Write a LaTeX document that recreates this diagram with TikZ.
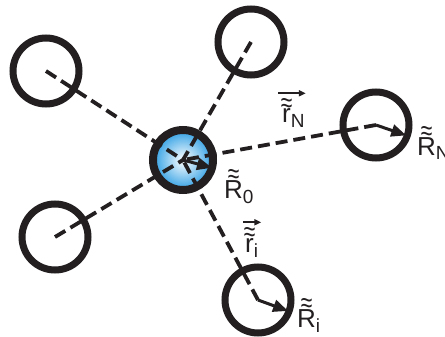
\documentclass[tikz,border=0pt]{standalone}
\usepackage{graphicx}
\usepackage{fontspec}
\setmainfont{Liberation Sans}
\usetikzlibrary{arrows.meta}
\definecolor{ink}{HTML}{231F20}
\definecolor{coreblue}{HTML}{2E9FE4}
% letter with a double tilde above it, and a lowered index
\newsavebox{\dtilbox}
\newcommand{\dtil}[1]{\sbox{\dtilbox}{#1}\rlap{\hbox to\wd\dtilbox{\hss
  \raisebox{\dimexpr\ht\dtilbox-3.5pt\relax}{\scalebox{1}[1.35]{\fontsize{21}{21}\selectfont\char"2248}}\hss}}\usebox{\dtilbox}}
\newcommand{\lowsub}[1]{\raisebox{-5pt}{\fontsize{19}{19}\selectfont #1}}

\begin{document}
\begin{tikzpicture}[x=1pt,y=1pt,
  ring/.style={circle,draw=ink,line width=7pt,minimum size=66pt,inner sep=0pt},
  core/.style={circle,draw=ink,line width=8pt,minimum size=60pt,inner sep=0pt,
               inner color=white,outer color=coreblue},
  link/.style={draw=ink,line width=3.8pt,dash pattern=on 12pt off 6pt},
  radius/.style={-{Triangle[length=15pt,width=12pt]},draw=ink,line width=3pt},
  vecarrow/.style={-{Triangle[length=7pt,width=6pt]},draw=ink,line width=1.8pt},
  lbl/.style={anchor=base west,inner sep=0pt,text=ink,font=\fontsize{26}{31}\selectfont}
]
% pixel grid of the 445 x 337 figure, y pointing down as negative values
\path[use as bounding box] (0,0) rectangle (445,-337);

\node[core] (R0) at (183,-160) {};
\node[ring] (Rtl) at (46,-71) {};
\node[ring] (Rt) at (251,-42) {};
\node[ring] (RN) at (376,-125) {};
\node[ring] (Rbl) at (55,-237) {};
\node[ring] (Ri) at (258,-300) {};

\foreach \outer in {Rtl,Rt,RN,Rbl,Ri}{\draw[link] (\outer.center) -- (R0.center);}

\draw[radius] (R0.center) -- ([shift={(-15:30)}]R0.center);
\draw[radius] (RN.center) -- ([shift={(-19:32)}]RN.center);
\draw[radius] (Ri.center) -- ([shift={(-20:32)}]Ri.center);

\node[lbl] (labR0) at (224,-198) {\dtil{R}\lowsub{0}};
\node[lbl] (labRN) at (417,-155) {\dtil{R}\lowsub{N}};
\node[lbl] (labRi) at (297,-327) {\dtil{R}\lowsub{i}};
\node[lbl] (labrN) at (282,-123) {\dtil{r}\lowsub{N}};
\node[lbl] (labri) at (245,-252) {\dtil{r}\lowsub{i}};
\draw[vecarrow] ([shift={(-4,5)}]labrN.north west) -- ([shift={(1,5)}]labrN.north east);
\draw[vecarrow] ([shift={(-2,5)}]labri.north west) -- ([shift={(3,5)}]labri.north east);
\end{tikzpicture}
\end{document}
